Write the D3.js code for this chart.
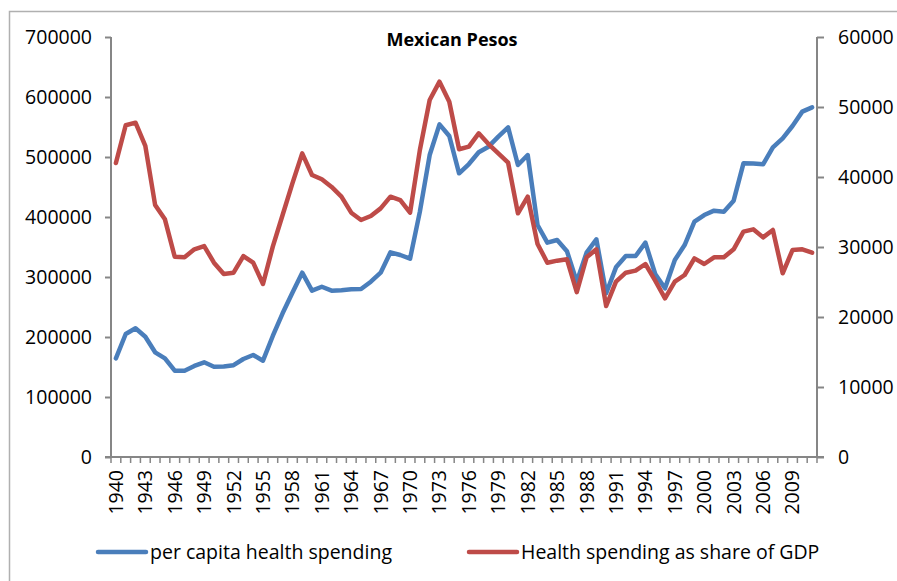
<!DOCTYPE html>
<html>
<head>
<meta charset="utf-8">
<script src="https://cdn.jsdelivr.net/npm/d3@7"></script>
<style>
  body { margin: 0; background: #fff; }
  svg text { font-family: "Open Sans", "Noto Sans", sans-serif; fill: #000; }
</style>
</head>
<body>
<svg id="chart" width="897" height="581"></svg>
<script>
// years 1940..2011
var years = d3.range(1940, 2012);

// per capita health spending (left axis, pesos)
var perCapita = [
  164500, 205000, 214500, 200500, 174500, 164500, 143800, 143800, 151700, 157800,
  150500, 151000, 153000, 163300, 170000, 160500, 201700, 239500, 273800, 307200,
  277200, 283800, 277200, 278000, 279400, 280000, 292200, 307200, 341100, 336700,
  330500, 408900, 503300, 554400, 535000, 472800, 488300, 507800, 517200, 533900,
  549400, 486700, 503300, 386700, 357200, 361700, 343000, 292200, 340600, 362800,
  272800, 316100, 335000, 335000, 357200, 305000, 281100, 328300, 353300, 392200,
  403300, 410600, 408900, 427200, 489400, 489000, 487800, 516100, 531100, 551700,
  575600, 582800
];

// health spending as share of GDP (right axis)
var gdpShare = [
  42000, 47400, 47760, 44430, 36000, 33950, 28600, 28550, 29670, 30140,
  27760, 26140, 26330, 28710, 27760, 24710, 30050, 34570, 39100, 43380,
  40290, 39670, 38580, 37190, 34900, 33860, 34430, 35520, 37190, 36710,
  34900, 43860, 51000, 53620, 50760, 43960, 44330, 46240, 44710, 43380,
  42040, 34810, 37190, 30430, 27760, 28050, 28240, 23550, 28520, 29670,
  21570, 25050, 26330, 26620, 27570, 25190, 22670, 25050, 26000, 28380,
  27570, 28520, 28520, 29670, 32190, 32520, 31380, 32430, 26240, 29570,
  29670, 29190
];

var leftTicks = d3.range(0, 700001, 100000);
var rightTicks = d3.range(0, 60001, 10000);
var seriesNames = ["per capita health spending", "Health spending as share of GDP"];
var colors = ["#4a7ebb", "#be4b48"];

var svg = d3.select("svg#chart");
var margin = { "top": 37, "right": 80, "bottom": 124, "left": 111 };
var chartWidth = 817 - margin.left;
var chartHeight = 457 - margin.top;
var axisColor = "#868686";

// outer frame
svg.append("rect").attr("x", 9.5).attr("y", 11.5).attr("width", 900).attr("height", 600)
  .style("fill", "none").style("stroke", "#b0b0b0").style("stroke-width", 1.5);

var g = svg.append("g").attr("transform", "translate(" + margin.left + "," + margin.top + ")");

var xScale = d3.scaleBand().domain(years).range([0, chartWidth]);
var yLeft = d3.scaleLinear().domain([0, 700000]).range([chartHeight, 0]);
var yRight = d3.scaleLinear().domain([0, 60000]).range([chartHeight, 0]);

// left axis
var leftAxis = d3.axisLeft(yLeft).tickValues(leftTicks).tickSize(6).tickPadding(13).tickFormat(d3.format("d"));
var la = g.append("g").call(leftAxis);
// right axis
var rightAxis = d3.axisRight(yRight).tickValues(rightTicks).tickSize(7).tickPadding(14).tickFormat(d3.format("d"));
var ra = g.append("g").attr("transform", "translate(" + chartWidth + ",0)").call(rightAxis);

[la, ra].forEach(function (a) {
  a.select(".domain").remove();
  a.selectAll("line").style("stroke", axisColor).style("stroke-width", 2);
  a.selectAll("text").style("font-size", "19.5px").style("font-family", "'Open Sans', sans-serif").attr("dy", "0.35em");
});
g.append("line").attr("x1", 0).attr("x2", 0).attr("y1", 0).attr("y2", chartHeight)
  .style("stroke", axisColor).style("stroke-width", 2);
g.append("line").attr("x1", chartWidth).attr("x2", chartWidth).attr("y1", 0).attr("y2", chartHeight)
  .style("stroke", axisColor).style("stroke-width", 2);

// bottom axis: ticks between categories, labels every 3 years
var xa = g.append("g").attr("transform", "translate(0," + chartHeight + ")");
xa.append("line").attr("x1", -6).attr("x2", chartWidth + 7).attr("y1", 0).attr("y2", 0)
  .style("stroke", axisColor).style("stroke-width", 2);
xa.selectAll("line.tick").data(years.concat([2012])).enter().append("line")
  .attr("class", "tick")
  .attr("x1", function (d) { return d === 2012 ? chartWidth : xScale(d); })
  .attr("x2", function (d) { return d === 2012 ? chartWidth : xScale(d); })
  .attr("y1", 0).attr("y2", 6)
  .style("stroke", axisColor).style("stroke-width", 1.5);
xa.selectAll("text").data(years.filter(function (d) { return (d - 1940) % 3 === 0; })).enter().append("text")
  .attr("transform", function (d) {
    return "translate(" + (xScale(d) + xScale.bandwidth() / 2 + 7) + ",13) rotate(-90)";
  })
  .attr("text-anchor", "end")
  .style("font-size", "19.5px")
  .text(function (d) { return d; });

// lines
var lineLeft = d3.line()
  .x(function (d, i) { return xScale(years[i]) + xScale.bandwidth() / 2; })
  .y(function (d) { return yLeft(d); });
var lineRight = d3.line()
  .x(function (d, i) { return xScale(years[i]) + xScale.bandwidth() / 2; })
  .y(function (d) { return yRight(d); });

g.append("path").datum(perCapita).attr("d", lineLeft)
  .style("fill", "none").style("stroke", colors[0]).style("stroke-width", 4.5)
  .style("stroke-linejoin", "round").style("stroke-linecap", "round");
g.append("path").datum(gdpShare).attr("d", lineRight)
  .style("fill", "none").style("stroke", colors[1]).style("stroke-width", 4.5)
  .style("stroke-linejoin", "round").style("stroke-linecap", "round");

// title
svg.append("text").attr("x", 452).attr("y", 46).attr("text-anchor", "middle")
  .style("font-size", "18px").style("font-weight", "bold").text("Mexican Pesos");

// legend
var legendX = [98, 469];
seriesNames.forEach(function (name, i) {
  svg.append("line").attr("x1", legendX[i]).attr("x2", legendX[i] + 48).attr("y1", 552).attr("y2", 552)
    .style("stroke", colors[i]).style("stroke-width", 4.5).style("stroke-linecap", "round");
  svg.append("text").attr("x", legendX[i] + 52).attr("y", 559)
    .style("font-size", "19.5px").text(name);
});
</script>
</body>
</html>
